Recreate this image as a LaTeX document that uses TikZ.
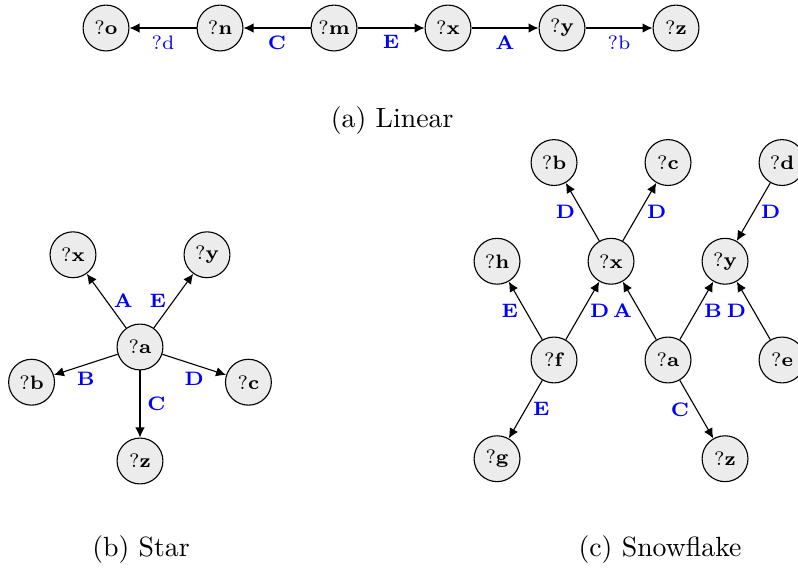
\documentclass[tikz,border=0pt]{standalone}
\usetikzlibrary{positioning, arrows.meta}
\definecolor{lblblue}{HTML}{0000FF}
\tikzstyle{var} = [circle, draw, fill=gray!15, minimum size=16.5pt, inner sep=0pt, font=\scriptsize]
\tikzstyle{lbl} = [font=\scriptsize\bfseries, text=lblblue, inner sep=2.5pt]
\tikzstyle{rel} = [-{Latex[length=3.6pt, width=3.4pt]}]
\tikzstyle{subcap} = [font=\normalsize]
\begin{document}
\begin{tikzpicture}[x=41pt, y=41pt]
	\useasboundingbox (0,0) rectangle (7,5);
	% linear
	\begin{scope}[node distance=41pt, on grid]
		\node[var] (lo) at (0.93,4.754) {?\textbf{o}};
		\node[var, right=of lo] (ln) {?\textbf{n}};
		\node[var, right=of ln] (lm) {?\textbf{m}};
		\node[var, right=of lm] (lx) {?\textbf{x}};
		\node[var, right=of lx] (ly) {?\textbf{y}};
		\node[var, right=of ly] (lz) {?\textbf{z}};
	\end{scope}
	\draw[rel] (ln) -- node[lbl, below, font=\scriptsize\mdseries] {?d} (lo);
	\draw[rel] (lm) -- node[lbl, below] {C} (ln);
	\draw[rel] (lm) -- node[lbl, below] {E} (lx);
	\draw[rel] (lx) -- node[lbl, below] {A} (ly);
	\draw[rel] (ly) -- node[lbl, below, font=\scriptsize\mdseries] {?b} (lz);
	\node[subcap] (capa) at (3.44,3.94) {(a) Linear};
	% star
	\begin{scope}[shift={(1.228,1.956)}]
		\node[var] (sa) at (0,0) {?\textbf{a}};
		\node[var] (sx) at (126:1) {?\textbf{x}};
		\node[var] (sy) at (54:1) {?\textbf{y}};
		\node[var] (sb) at (198:1) {?\textbf{b}};
		\node[var] (sc) at (-18:1) {?\textbf{c}};
		\node[var] (sz) at (-90:1) {?\textbf{z}};
	\end{scope}
	\draw[rel] (sa) -- node[lbl, right] {A} (sx);
	\draw[rel] (sa) -- node[lbl, left] {E} (sy);
	\draw[rel] (sa) -- node[lbl, below] {B} (sb);
	\draw[rel] (sa) -- node[lbl, below] {D} (sc);
	\draw[rel] (sa) -- node[lbl, right] {C} (sz);
	\node[subcap] (capb) at (1.237,0.175) {(b) Star};
	% snowflake
	\begin{scope}[shift={(5.86,1.842)}]
		\node[var] (fa) at (0,0) {?\textbf{a}};
		\node[var] (fx) at (-0.5,0.866) {?\textbf{x}};
		\node[var] (fy) at (0.5,0.866) {?\textbf{y}};
		\node[var] (ff) at (-1,0) {?\textbf{f}};
		\node[var] (fe) at (1,0) {?\textbf{e}};
		\node[var] (fb) at (-1,1.732) {?\textbf{b}};
		\node[var] (fc) at (0,1.732) {?\textbf{c}};
		\node[var] (fd) at (1,1.732) {?\textbf{d}};
		\node[var] (fh) at (-1.5,0.866) {?\textbf{h}};
		\node[var] (fg) at (-1.5,-0.866) {?\textbf{g}};
		\node[var] (fz) at (0.5,-0.866) {?\textbf{z}};
	\end{scope}
	\draw[rel] (fx) -- node[lbl, left] {D} (fb);
	\draw[rel] (fx) -- node[lbl, right] {D} (fc);
	\draw[rel] (fd) -- node[lbl, right] {D} (fy);
	\draw[rel] (ff) -- node[lbl, left] {E} (fh);
	\draw[rel] (ff) -- node[lbl, right] {D} (fx);
	\draw[rel] (fa) -- node[lbl, left] {A} (fx);
	\draw[rel] (fa) -- node[lbl, right] {B} (fy);
	\draw[rel] (fe) -- node[lbl, left] {D} (fy);
	\draw[rel] (ff) -- node[lbl, right] {E} (fg);
	\draw[rel] (fa) -- node[lbl, left] {C} (fz);
	\node[subcap] (capc) at (5.79,0.175) {(c) Snowflake};
\end{tikzpicture}
\end{document}
